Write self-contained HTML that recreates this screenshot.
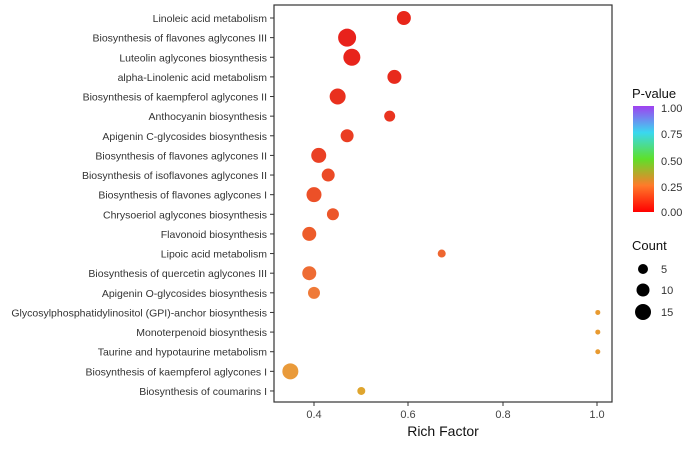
<!DOCTYPE html>
<html><head><meta charset="utf-8"><style>body{margin:0;background:#fff}svg{display:block;font-family:"Liberation Sans",sans-serif}</style></head><body>
<svg width="700" height="451" viewBox="0 0 700 451">
<defs><linearGradient id="g" x1="0" y1="1" x2="0" y2="0">
<stop offset="0" stop-color="#ff0000"/><stop offset="0.25" stop-color="#ff7a2a"/><stop offset="0.5" stop-color="#5ee02a"/><stop offset="0.75" stop-color="#3ad8f0"/><stop offset="1" stop-color="#a040f0"/></linearGradient></defs>
<rect x="274" y="5" width="338" height="397" fill="#fff" stroke="#333" stroke-width="1.2"/>
<g font-size="10.5" fill="#333" text-anchor="end" id="labels"></g>
<g id="pts"></g>
<g font-size="11" fill="#444" text-anchor="middle">
<line x1="314" y1="402" x2="314" y2="406" stroke="#333"/><text x="314" y="418">0.4</text>
<line x1="408" y1="402" x2="408" y2="406" stroke="#333"/><text x="408" y="418">0.6</text>
<line x1="503" y1="402" x2="503" y2="406" stroke="#333"/><text x="503" y="418">0.8</text>
<line x1="597" y1="402" x2="597" y2="406" stroke="#333"/><text x="597" y="418">1.0</text>
</g>
<text x="443" y="436" font-size="14" fill="#111" text-anchor="middle">Rich Factor</text>
<text x="632" y="98" font-size="13" fill="#111">P-value</text>
<rect x="633" y="106" width="21" height="106" fill="url(#g)"/>
<g font-size="11" fill="#333">
<text x="661" y="112">1.00</text><text x="661" y="138">0.75</text><text x="661" y="165">0.50</text><text x="661" y="191">0.25</text><text x="661" y="216">0.00</text>
</g>
<text x="632" y="250" font-size="13" fill="#111">Count</text>
<circle cx="643" cy="269" r="5" fill="#000"/><text x="661" y="273" font-size="11" fill="#333">5</text>
<circle cx="643" cy="290" r="6.5" fill="#000"/><text x="661" y="294" font-size="11" fill="#333">10</text>
<circle cx="643" cy="312" r="8" fill="#000"/><text x="661" y="316" font-size="11" fill="#333">15</text>
</svg>
<script>
const d=[["Linoleic acid metabolism",0.59,7,"#e8261a"],["Biosynthesis of flavones aglycones III",0.47,9,"#e8221c"],["Luteolin aglycones biosynthesis",0.48,8.5,"#e8241c"],["alpha-Linolenic acid metabolism",0.57,7,"#e82a1c"],["Biosynthesis of kaempferol aglycones II",0.45,8,"#e9301e"],["Anthocyanin biosynthesis",0.56,5.5,"#e93420"],["Apigenin C-glycosides biosynthesis",0.47,6.5,"#ea3d22"],["Biosynthesis of flavones aglycones II",0.41,7.5,"#ea4024"],["Biosynthesis of isoflavones aglycones II",0.43,6.5,"#eb4a26"],["Biosynthesis of flavones aglycones I",0.40,7.5,"#ec5028"],["Chrysoeriol aglycones biosynthesis",0.44,6,"#ec5629"],["Flavonoid biosynthesis",0.39,7,"#ed5c2a"],["Lipoic acid metabolism",0.67,4,"#ee6630"],["Biosynthesis of quercetin aglycones III",0.39,7,"#ee6c33"],["Apigenin O-glycosides biosynthesis",0.40,6,"#ef7a38"],["Glycosylphosphatidylinositol (GPI)-anchor biosynthesis",1.0,2.5,"#e89a30"],["Monoterpenoid biosynthesis",1.0,2.5,"#e89a30"],["Taurine and hypotaurine metabolism",1.0,2.5,"#e89a30"],["Biosynthesis of kaempferol aglycones I",0.35,8,"#e99a3a"],["Biosynthesis of coumarins I",0.50,4,"#dfa52e"]];
const ns="http://www.w3.org/2000/svg",L=document.getElementById("labels"),P=document.getElementById("pts");
d.forEach((r,i)=>{const y=18+i*19.63;
let t=document.createElementNS(ns,"text");t.setAttribute("x",267);t.setAttribute("y",y+4);t.textContent=r[0];L.appendChild(t);
let l=document.createElementNS(ns,"line");l.setAttribute("x1",270);l.setAttribute("x2",274);l.setAttribute("y1",y);l.setAttribute("y2",y);l.setAttribute("stroke","#333");L.appendChild(l);
let c=document.createElementNS(ns,"circle");c.setAttribute("cx",314+(r[1]-0.4)*473);c.setAttribute("cy",y);c.setAttribute("r",r[2]);c.setAttribute("fill",r[3]);P.appendChild(c);});
</script>
</body></html>
